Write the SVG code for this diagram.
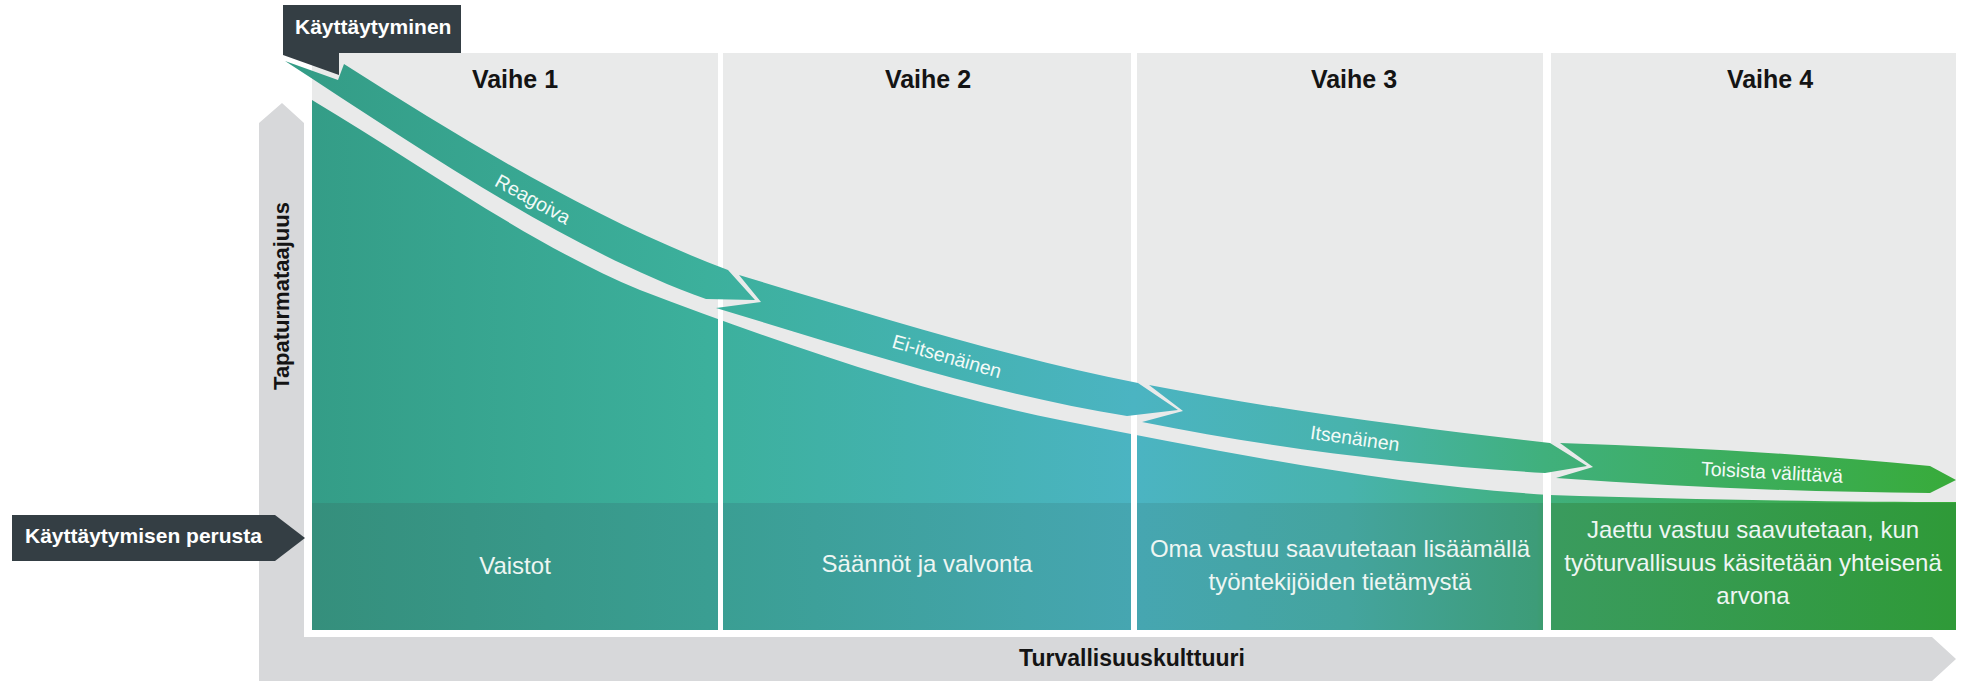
<svg xmlns="http://www.w3.org/2000/svg" width="1961" height="681" viewBox="0 0 1961 681">
<defs>
<style>
.lbl{font-family:"Liberation Sans",Arial,sans-serif;font-weight:bold;fill:#141414}
.dark{font-family:"Liberation Sans",Arial,sans-serif;font-weight:bold;fill:#ffffff;font-size:21px}
.band{font-family:"Liberation Sans",Arial,sans-serif;fill:#f2faf7;font-size:19.5px}
.strip{font-family:"Liberation Sans",Arial,sans-serif;fill:#eef6f3;font-size:24px;text-anchor:middle}
.panel{fill:#e9eaea}
.sep{fill:#ffffff}
.callout{fill:#343e44}
</style>
<linearGradient id="gArea" gradientUnits="userSpaceOnUse" x1="312" y1="0" x2="1956" y2="0">
<stop offset="0" stop-color="#349d87"/>
<stop offset="0.24" stop-color="#3cb09c"/>
<stop offset="0.5" stop-color="#4bb4c2"/>
<stop offset="0.63" stop-color="#48b3ad"/>
<stop offset="0.75" stop-color="#40b07c"/>
<stop offset="1" stop-color="#38ab3a"/>
</linearGradient>
<linearGradient id="gStrip" gradientUnits="userSpaceOnUse" x1="312" y1="0" x2="1956" y2="0">
<stop offset="0" stop-color="#358f7c"/>
<stop offset="0.24" stop-color="#3a9e92"/>
<stop offset="0.5" stop-color="#46a6b1"/>
<stop offset="0.63" stop-color="#44a49e"/>
<stop offset="0.745" stop-color="#3d9c78"/>
<stop offset="0.755" stop-color="#3a9b5e"/>
<stop offset="1" stop-color="#2f9a38"/>
</linearGradient>
</defs>
<rect x="0" y="0" width="1961" height="681" fill="#ffffff"/>

<g id="axes">
<path d="M259,123 L282,103 L304,123 L304,637 L1932,637 L1956,659 L1932,681 L259,681 Z" fill="#d7d8da"/>
<text class="lbl" font-size="22" text-anchor="middle" transform="translate(289,296) rotate(-90)">Tapaturmataajuus</text>
<text class="lbl" font-size="23" x="1132" y="666" text-anchor="middle">Turvallisuuskulttuuri</text>
</g>

<g id="panels">
<rect class="panel" x="312" y="53" width="406" height="577"/>
<rect class="panel" x="723" y="53" width="408" height="577"/>
<rect class="panel" x="1137" y="53" width="406" height="577"/>
<rect class="panel" x="1551" y="53" width="405" height="577"/>
</g>

<g id="area">
<path d="M312,100 C421,165 531,245 640,290 C780,343 920,392 1060,420 C1223,452 1387,485 1550,495 C1700,500 1850,502 1956,502 L1956,630 L312,630 Z" fill="url(#gArea)"/>
<rect x="312" y="503" width="1644" height="127" fill="url(#gStrip)"/>
</g>

<g id="separators">
<rect class="sep" x="718" y="53" width="5" height="584"/>
<rect class="sep" x="1131" y="53" width="6" height="584"/>
<rect class="sep" x="1543" y="53" width="8" height="584"/>
</g>

<g id="connectors">
<path d="M285,61 L338,80 L344,64 C472,146 600,222 728,270 L755,300 L706,299 C566,249 425,152 285,61 Z" fill="url(#gArea)"/>
<path d="M739,275 C873,315 1006,357 1138,383 L1178,410 L1127,416 C990,394 853,349 716,308 L761,302 Z" fill="url(#gArea)"/>
<path d="M1149,385 C1285,411 1417,428 1550,443 L1587,466 L1545,473 C1411,465 1276,449 1142,422 L1183,411 Z" fill="url(#gArea)"/>
<path d="M1560,443 C1685,447 1808,454 1930,466 L1956,480 L1930,493 C1805,492 1680,487 1556,478 L1593,467 Z" fill="url(#gArea)"/>
<text class="band" text-anchor="middle" transform="translate(533,199) rotate(29)" y="7">Reagoiva</text>
<text class="band" text-anchor="middle" transform="translate(947,356) rotate(16)" y="7">Ei-itsenäinen</text>
<text class="band" text-anchor="middle" transform="translate(1355,438) rotate(8)" y="7">Itsenäinen</text>
<text class="band" text-anchor="middle" transform="translate(1772,472) rotate(3)" y="7">Toisista välittävä</text>
</g>

<g id="phase1">
<text class="lbl" font-size="25" x="515" y="88" text-anchor="middle">Vaihe 1</text>
<text class="strip" x="515" y="574">Vaistot</text>
</g>
<g id="phase2">
<text class="lbl" font-size="25" x="928" y="88" text-anchor="middle">Vaihe 2</text>
<text class="strip" x="927" y="572">Säännöt ja valvonta</text>
</g>
<g id="phase3">
<text class="lbl" font-size="25" x="1354" y="88" text-anchor="middle">Vaihe 3</text>
<text class="strip" x="1340" y="557">Oma vastuu saavutetaan lisäämällä</text>
<text class="strip" x="1340" y="590">työntekijöiden tietämystä</text>
</g>
<g id="phase4">
<text class="lbl" font-size="25" x="1770" y="88" text-anchor="middle">Vaihe 4</text>
<text class="strip" x="1753" y="538">Jaettu vastuu saavutetaan, kun</text>
<text class="strip" x="1753" y="571">työturvallisuus käsitetään yhteisenä</text>
<text class="strip" x="1753" y="604">arvona</text>
</g>

<g id="callout-behaviour">
<path class="callout" d="M283,5 H461 V53 H339 V75 L283,55 Z"/>
<text class="dark" x="295" y="34">Käyttäytyminen</text>
</g>
<g id="callout-basis">
<path class="callout" d="M12,515 H275 L305,538 L275,561 H12 Z"/>
<text class="dark" x="25" y="543">Käyttäytymisen perusta</text>
</g>
</svg>
